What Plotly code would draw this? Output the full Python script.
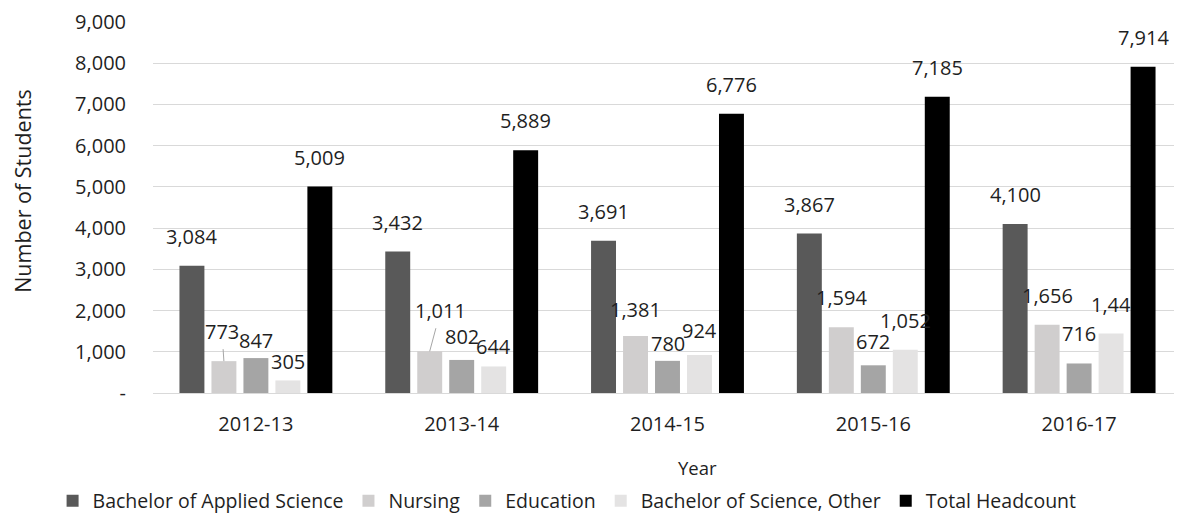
import plotly.graph_objects as go

# ---------------- data ----------------
years = ["2012-13", "2013-14", "2014-15", "2015-16", "2016-17"]
series_names = ["Bachelor of Applied Science", "Nursing", "Education",
                "Bachelor of Science, Other", "Total Headcount"]
bachelor_applied = [3084, 3432, 3691, 3867, 4100]
nursing = [773, 1011, 1381, 1594, 1656]
education = [847, 802, 780, 672, 716]
bs_other = [305, 644, 924, 1052, 1443]
total_headcount = [5009, 5889, 6776, 7185, 7914]
y_tick_vals = [0, 1000, 2000, 3000, 4000, 5000, 6000, 7000, 8000, 9000]
y_tick_text = ["-", "1,000", "2,000", "3,000", "4,000", "5,000", "6,000",
               "7,000", "8,000", "9,000"]
x_title = "Year"
y_title = "Number of Students"

# ---------------- style ----------------
colors = ["#595959", "#d0cece", "#a5a5a5", "#e4e3e3", "#000000"]
FONT = "Open Sans"
TXT = "#1f1f1f"
BAR_STEP = 32          # px between bar centres in a group
BASE_SHIFT = 14        # px label above bar
# label vertical nudges (px) for crowded labels: (series index, year index)
nudge = {(2, 0): -12, (3, 0): -11, (2, 1): -6, (3, 1): -10,
         (1, 2): -3, (2, 2): -12, (3, 2): -5, (2, 3): -6}
# labels drawn with leader lines: (series, year) -> (ax, ay)
leaders = {(1, 0): (-2, -30), (1, 1): (11, -41)}
# label text overrides (as shown in the picture)
text_override = {(3, 4): "1,44"}

all_values = [bachelor_applied, nursing, education, bs_other, total_headcount]

fig = go.Figure()
for name, vals, col in zip(series_names, all_values, colors):
    fig.add_trace(go.Bar(
        name=name, x=years, y=vals,
        marker=dict(color=col, line=dict(width=0)),
    ))

annotations = []
for i, vals in enumerate(all_values):
    for j, v in enumerate(vals):
        txt = text_override.get((i, j), f"{v:,}")
        xshift = (i - 2) * BAR_STEP
        if (i, j) in leaders:
            ax, ay = leaders[(i, j)]
            annotations.append(dict(
                x=years[j], y=v, xref="x", yref="y", text=txt,
                xshift=xshift, showarrow=True, arrowhead=0, arrowwidth=1,
                arrowcolor="#a6a6a6", ax=ax, ay=ay, startstandoff=3,
                font=dict(family=FONT, size=20, color=TXT)))
        else:
            annotations.append(dict(
                x=years[j], y=v, xref="x", yref="y", text=txt,
                xshift=xshift, yshift=BASE_SHIFT + nudge.get((i, j), 0),
                yanchor="bottom", showarrow=False,
                font=dict(family=FONT, size=20, color=TXT)))

# axis titles
annotations.append(dict(text=y_title, xref="paper", yref="paper",
                        x=-0.1263, y=0.545, xanchor="center", yanchor="middle",
                        textangle=-90, showarrow=False, borderpad=0,
                        font=dict(family=FONT, size=21.5, color=TXT)))
annotations.append(dict(text=x_title, xref="paper", yref="paper",
                        x=0.5287, y=-0.1995, xanchor="center", yanchor="middle",
                        showarrow=False,
                        font=dict(family=FONT, size=18.5, color=TXT)))

fig.update_layout(
    width=1182, height=516,
    margin=dict(l=145, r=8, t=14, b=131, autoexpand=False),
    paper_bgcolor="white", plot_bgcolor="white",
    barmode="group", bargap=0.223, bargroupgap=0.22,
    font=dict(family=FONT, size=18, color=TXT),
    showlegend=True,
    legend=dict(orientation="h", xref="container", x=0.473, xanchor="center",
                yref="container", y=0.0446, yanchor="middle",
                font=dict(family=FONT, size=19.5, color=TXT),
                traceorder="normal"),
    annotations=annotations,
)
fig.update_xaxes(
    type="category", showgrid=False, showline=False, zeroline=False,
    ticks="", ticklabelstandoff=17, automargin=False,
    tickfont=dict(family=FONT, size=20, color=TXT),
)
fig.update_yaxes(
    range=[0, 9000], tickvals=y_tick_vals, ticktext=y_tick_text,
    showgrid=True, gridcolor="#d9d9d9", gridwidth=1.3,
    zeroline=True, zerolinecolor="#d9d9d9", zerolinewidth=1.3,
    showline=False, ticks="", ticklabelstandoff=26, automargin=False,
    tickfont=dict(family=FONT, size=20, color=TXT),
)

fig.write_html("out.html")
